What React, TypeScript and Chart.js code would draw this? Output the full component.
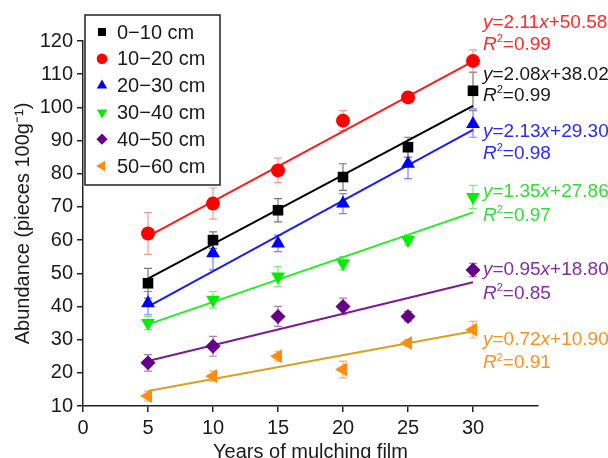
import React, { useEffect, useRef } from "react";
import { Chart, registerables } from "chart.js";

Chart.register(...registerables);

const FONT = "'Liberation Sans', Arial, Helvetica, sans-serif";

// ---- data ----
const years = [5, 10, 15, 20, 25, 30];
const seriesNames = ["0−10 cm", "10−20 cm", "20−30 cm", "30−40 cm", "40−50 cm", "50−60 cm"];
const d0_10 = [47, 60, 69, 79, 88, 105];
const d10_20 = [62, 71, 81, 96, 103, 114];
const d20_30 = [41, 56, 59, 71, 83, 95];
const d30_40 = [35, 42, 49, 53, 60, 73];
const d40_50 = [23, 28, 37, 40, 37, 51];
const d50_60 = [13, 19, 25, 21, 29, 33];
const e0_10 = [4.5, 2.5, 3.5, 4, 3, 5.5];
const e10_20 = [6.3, 4.7, 3.7, 3, 1.5, 3.3];
const e20_30 = [3.5, 5, 2.5, 3, 4.5, 4];
const e30_40 = [2, 2.5, 3, 2, 1.5, 3.5];
const e40_50 = [2.5, 3, 3, 2.5, 1.5, 2];
const e50_60 = [1.5, 1.5, 1.5, 2.5, 1, 2.5];
const slopes = [2.08, 2.11, 2.13, 1.35, 0.95, 0.72];
const intercepts = [38.02, 50.58, 29.3, 27.86, 18.8, 10.9];
const r2Values = ["0.99", "0.99", "0.98", "0.97", "0.85", "0.91"];
const fitRange = [5, 30];
const xTickValues = [0, 5, 10, 15, 20, 25, 30];
const yTickValues = [10, 20, 30, 40, 50, 60, 70, 80, 90, 100, 110, 120];

// ---- styles ----
const means = [d0_10, d10_20, d20_30, d30_40, d40_50, d50_60];
const errs = [e0_10, e10_20, e20_30, e30_40, e40_50, e50_60];
const markerColors = ["#000000", "#ff0000", "#0000ff", "#00ee00", "#660088", "#ff8c10"];
const lineColors = ["#000000", "#ff1a1a", "#1a1aff", "#22ee22", "#7a1a9a", "#dca020"];
const errColors = ["#777777", "#f29a9a", "#8080ff", "#80e880", "#a880c0", "#ffb060"];
const textColors = ["#1a1a1a", "#ff2a2a", "#2a2aff", "#33dd33", "#8030a0", "#ff9020"];
const pointStyles = ["rect", "circle", "triangle", "triangle", "rectRot", "triangle"];
const rotations = [0, 0, 0, 180, 0, -90];
const radii = [7.5, 7, 8, 8, 7.5, 8];
// label anchors (in y-axis units) for equation and R² lines
const eqAnchors = [109.7, 125.4, 92.6, 74.6, 51.1, 29.9];
const r2Anchors = [103.6, 118.8, 85.9, 67.4, 43.8, 22.9];

function drawMarker(ctx: CanvasRenderingContext2D, style: string, rot: number, r: number, x: number, y: number, color: string) {
  ctx.save();
  ctx.fillStyle = color;
  ctx.beginPath();
  if (style === "circle") {
    ctx.arc(x, y, r, 0, Math.PI * 2);
  } else if (style === "rect") {
    const s = Math.SQRT1_2 * r;
    ctx.rect(x - s, y - s, 2 * s, 2 * s);
  } else if (style === "rectRot") {
    ctx.moveTo(x - r, y);
    ctx.lineTo(x, y - r);
    ctx.lineTo(x + r, y);
    ctx.lineTo(x, y + r);
    ctx.closePath();
  } else {
    let rad = (rot * Math.PI) / 180;
    ctx.moveTo(x + Math.sin(rad) * r, y - Math.cos(rad) * r);
    rad += (2 * Math.PI) / 3;
    ctx.lineTo(x + Math.sin(rad) * r, y - Math.cos(rad) * r);
    rad += (2 * Math.PI) / 3;
    ctx.lineTo(x + Math.sin(rad) * r, y - Math.cos(rad) * r);
    ctx.closePath();
  }
  ctx.fill();
  ctx.restore();
}

type Seg = { t: string; it?: boolean; sup?: boolean };
function drawRich(ctx: CanvasRenderingContext2D, segs: Seg[], x: number, y: number, size: number, color: string) {
  ctx.save();
  ctx.fillStyle = color;
  ctx.textBaseline = "middle";
  ctx.textAlign = "left";
  let cx = x;
  for (const s of segs) {
    const fs = s.sup ? Math.round(size * 0.6) : size;
    ctx.font = `${s.it ? "italic " : ""}${fs}px ${FONT}`;
    const yy = s.sup ? y - size * 0.3 : y;
    ctx.fillText(s.t, cx, yy);
    cx += ctx.measureText(s.t).width;
  }
  ctx.restore();
}

const errorBarPlugin = {
  id: "errorBars",
  beforeDatasetsDraw(chart: any) {
    const ctx = chart.ctx as CanvasRenderingContext2D;
    const ys = chart.scales.y;
    chart.data.datasets.forEach((ds: any, di: number) => {
      if (ds.errIndex === undefined) return;
      const meta = chart.getDatasetMeta(di);
      const e = errs[ds.errIndex];
      const m = means[ds.errIndex];
      ctx.save();
      ctx.strokeStyle = errColors[ds.errIndex];
      ctx.lineWidth = 1.2;
      meta.data.forEach((pt: any, i: number) => {
        const x = pt.x;
        const yTop = ys.getPixelForValue(m[i] + e[i]);
        const yBot = ys.getPixelForValue(m[i] - e[i]);
        ctx.beginPath();
        ctx.moveTo(x, yTop);
        ctx.lineTo(x, yBot);
        ctx.moveTo(x - 4, yTop);
        ctx.lineTo(x + 4, yTop);
        ctx.moveTo(x - 4, yBot);
        ctx.lineTo(x + 4, yBot);
        ctx.stroke();
      });
      ctx.restore();
    });
  },
};

const annotationPlugin = {
  id: "annotations",
  afterDraw(chart: any) {
    const ctx = chart.ctx as CanvasRenderingContext2D;
    const xs = chart.scales.x;
    const ys = chart.scales.y;
    // equations
    const tx = xs.getPixelForValue(30) + 10;
    for (let i = 0; i < 6; i++) {
      const eq: Seg[] = [
        { t: "y", it: true },
        { t: "=" + slopes[i].toFixed(2) },
        { t: "x", it: true },
        { t: "+" + intercepts[i].toFixed(2) },
      ];
      drawRich(ctx, eq, tx, ys.getPixelForValue(eqAnchors[i]), 19, textColors[i]);
      const rr: Seg[] = [{ t: "R", it: true }, { t: "2", sup: true }, { t: "=" + r2Values[i] }];
      drawRich(ctx, rr, tx, ys.getPixelForValue(r2Anchors[i]), 19, textColors[i]);
    }
    // legend
    const left = chart.chartArea.left + 2;
    const top = 15;
    const w = 135;
    const rowH = 26.8;
    const h = 170;
    ctx.save();
    ctx.fillStyle = "#ffffff";
    ctx.fillRect(left, top, w, h);
    ctx.strokeStyle = "#222222";
    ctx.lineWidth = 1.5;
    ctx.strokeRect(left, top, w, h);
    ctx.restore();
    for (let i = 0; i < 6; i++) {
      const cy = top + 17 + i * rowH;
      drawMarker(ctx, pointStyles[i], rotations[i], radii[i] * 0.75, left + 17, cy, markerColors[i]);
      ctx.save();
      ctx.fillStyle = "#1a1a1a";
      ctx.font = `20px ${FONT}`;
      ctx.textBaseline = "middle";
      ctx.textAlign = "left";
      ctx.fillText(seriesNames[i], left + 32, cy + 1);
      ctx.restore();
    }
  },
};

export default function App() {
  const ref = useRef<HTMLCanvasElement>(null);
  useEffect(() => {
    if (!ref.current) return;
    Chart.defaults.font.family = FONT;
    const datasets: any[] = [];
    for (let i = 0; i < 6; i++) {
      datasets.push({
        type: "line",
        label: seriesNames[i] + " fit",
        data: fitRange.map((x) => ({ x, y: slopes[i] * x + intercepts[i] })),
        borderColor: lineColors[i],
        borderWidth: 2,
        pointRadius: 0,
        showLine: true,
        fill: false,
        order: 2,
      });
    }
    for (let i = 0; i < 6; i++) {
      datasets.push({
        type: "scatter",
        label: seriesNames[i],
        data: years.map((x, k) => ({ x, y: means[i][k] })),
        backgroundColor: markerColors[i],
        borderColor: markerColors[i],
        borderWidth: 0,
        pointStyle: pointStyles[i],
        rotation: rotations[i],
        pointRadius: radii[i],
        order: 1,
        errIndex: i,
      });
    }
    const chart = new Chart(ref.current, {
      type: "scatter",
      data: { datasets },
      plugins: [errorBarPlugin, annotationPlugin],
      options: {
        animation: false,
        responsive: false,
        devicePixelRatio: 1,
        layout: { padding: { left: 0, top: 41, right: 70, bottom: 0 } },
        plugins: { legend: { display: false }, tooltip: { enabled: false } },
        scales: {
          x: {
            type: "linear",
            min: 0,
            max: 35,
            afterBuildTicks: (s: any) => {
              s.ticks = xTickValues.map((v) => ({ value: v }));
            },
            afterFit: (s: any) => {
              s.height = 52;
            },
            ticks: { color: "#1a1a1a", font: { size: 20 }, padding: 4, maxRotation: 0 },
            grid: { display: true, drawOnChartArea: false, drawTicks: true, tickLength: 6, color: "#222", lineWidth: 1.5 },
            border: { display: true, color: "#222", width: 1.5 },
            title: { display: true, text: "Years of mulching film", color: "#1a1a1a", font: { size: 20 }, padding: { top: 0, bottom: -6 } },
          },
          y: {
            type: "linear",
            min: 10,
            max: 120,
            afterBuildTicks: (s: any) => {
              s.ticks = yTickValues.map((v) => ({ value: v }));
            },
            afterFit: (s: any) => {
              s.width = 83;
            },
            ticks: { color: "#1a1a1a", font: { size: 20 }, padding: 4 },
            grid: { display: true, drawOnChartArea: false, drawTicks: true, tickLength: 6, color: "#222", lineWidth: 1.5 },
            border: { display: true, color: "#222", width: 1.5 },
            title: { display: true, text: "Abundance (pieces 100g⁻¹)", color: "#1a1a1a", font: { size: 20 }, padding: { top: 11, bottom: 0 } },
          },
        },
      } as any,
    });
    return () => chart.destroy();
  }, []);
  return (
    <div style={{ position: "absolute", left: 0, top: 0, width: 608, height: 458, background: "#fff" }}>
      <canvas ref={ref} width={608} height={458} style={{ width: 608, height: 458 }} />
    </div>
  );
}
